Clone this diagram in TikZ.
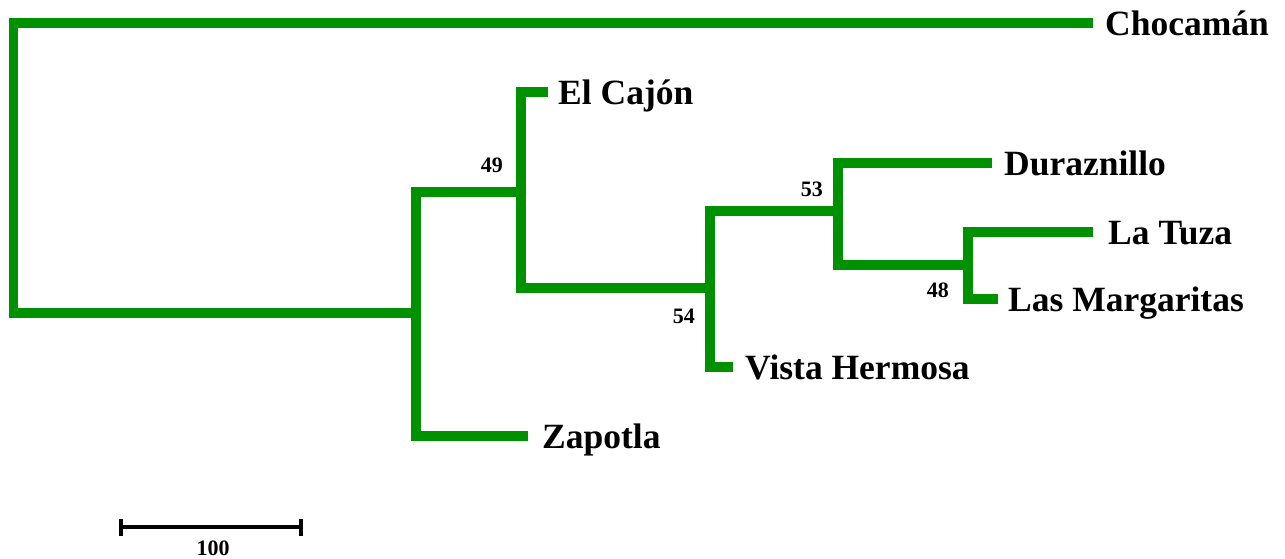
\documentclass[tikz,border=0pt]{standalone}
\usepackage{fontspec}
\setmainfont{Liberation Serif}
\definecolor{treegreen}{RGB}{0,145,0}
\begin{document}
\begin{tikzpicture}[x=1pt,y=-1pt,
  branch/.style={draw=treegreen,line width=9.5pt,line cap=butt,line join=miter},
  taxon/.style={anchor=base west,inner sep=0pt,font=\fontsize{35.5}{40}\selectfont\bfseries},
  boot/.style={anchor=base east,inner sep=0pt,font=\fontsize{22}{26}\selectfont\bfseries},
  scalebar/.style={draw=black,line width=3.2pt}]
\useasboundingbox (0,0) rectangle (1285,558);
% junctions
\coordinate (root) at (13.5,313);
\coordinate (nA) at (416,313);
\coordinate (nB) at (521,192);
\coordinate (nC) at (710,288);
\coordinate (nD) at (838,211);
\coordinate (nE) at (968,265);
% tips
\coordinate (tChoc) at (1093,23);
\coordinate (tCajon) at (548,92);
\coordinate (tZap) at (528,436);
\coordinate (tVista) at (733,367);
\coordinate (tDur) at (992,163);
\coordinate (tTuza) at (1093,232);
\coordinate (tMarg) at (998,299);
% branches
\path[branch] (tChoc) -| (root) -- (nA);
\path[branch] (nB) -| (nA) |- (tZap);
\path[branch] (tCajon) -| (nB) |- (nC);
\path[branch] (nD) -| (nC) |- (tVista);
\path[branch] (tDur) -| (nD) |- (nE);
\path[branch] (tTuza) -| (nE) |- (tMarg);
% taxon labels
\node[taxon] (lChoc) at (1105,35) {Chocamán};
\node[taxon] (lCajon) at (558,104) {El Cajón};
\node[taxon] (lDur) at (1004,175) {Duraznillo};
\node[taxon] (lTuza) at (1108,244) {La Tuza};
\node[taxon] (lMarg) at (1008,311) {Las Margaritas};
\node[taxon] (lVista) at (745,379) {Vista Hermosa};
\node[taxon] (lZap) at (542,448) {Zapotla};
% bootstrap values
\node[boot] (b49) at (503,172) {49};
\node[boot] (b53) at (823,196) {53};
\node[boot] (b48) at (949,297) {48};
\node[boot] (b54) at (695,323) {54};
% scale bar
\coordinate (sL) at (121,527);
\coordinate (sR) at (301,527);
\draw[scalebar] (sL) -- (sR);
\draw[scalebar] ([yshift=-9pt]sL) -- ([yshift=8pt]sL);
\draw[scalebar] ([yshift=-9pt]sR) -- ([yshift=8pt]sR);
\node[anchor=base,inner sep=0pt,font=\fontsize{22}{26}\selectfont\bfseries] (sLab) at (213,555) {100};
\end{tikzpicture}
\end{document}
